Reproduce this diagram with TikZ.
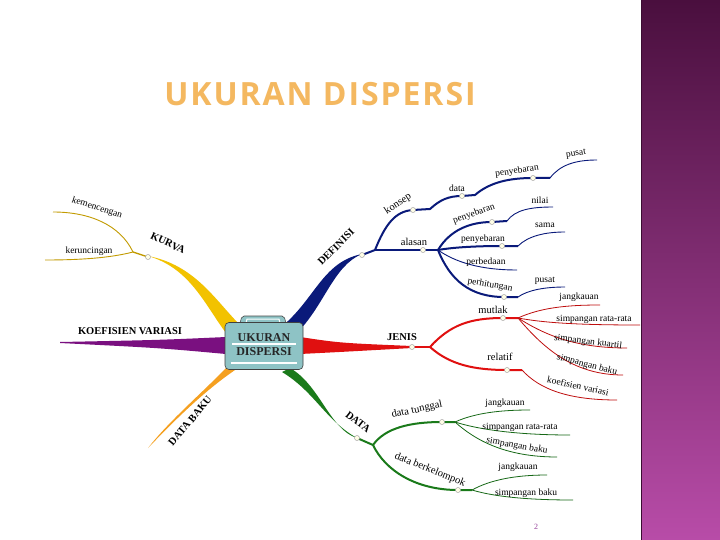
\documentclass[tikz,border=0pt]{standalone}
\usepackage{fontspec}
\setmainfont{Liberation Serif}
\newfontfamily\titlefont[LetterSpace=6]{Open Sans}
\begin{document}
\begin{tikzpicture}[x=1pt,y=-1pt,
  dotn/.style={circle,fill=yellow!10,draw=gray!70,line width=0.5pt,inner sep=0pt,minimum size=5pt},
  lbl/.style={font=\fontsize{9.5}{10}\selectfont,inner sep=0pt},
  mlbl/.style={font=\fontsize{10.5}{11}\selectfont,inner sep=0pt},
  blbl/.style={font=\bfseries\fontsize{10.5}{11}\selectfont,inner sep=0pt},
  navyb/.style={draw=navyc,line width=2pt},
  navyl/.style={draw=navyc,line width=0.9pt},
  redb/.style={draw=redc,line width=2pt},
  redl/.style={draw=redc!85!black,line width=0.8pt},
  grnb/.style={draw=grnc,line width=2pt},
  grnl/.style={draw=grnc!85!black,line width=0.8pt},
  ylwl/.style={draw=ylwc!80!black,line width=0.9pt}]
\definecolor{navyc}{HTML}{0A1A7A}
\definecolor{redc}{HTML}{E01010}
\definecolor{grnc}{HTML}{1A7A1A}
\definecolor{ylwc}{HTML}{F2C200}
\definecolor{purc}{HTML}{7A1080}
\definecolor{orac}{HTML}{F5A020}
\definecolor{titc}{HTML}{F4B860}
\definecolor{boxc}{HTML}{8EC3C5}
\definecolor{bartop}{HTML}{4A0F3E}
\definecolor{barbot}{HTML}{B84CA8}
\useasboundingbox (0,0) rectangle (720,540);
\fill[white] (0,0) rectangle (720,540);
\shade[top color=bartop,bottom color=barbot] (641,0) rectangle (720,540);
\draw[bartop!80!black,line width=0.8pt] (641,0) -- (641,540);
% title
\node[font=\titlefont\bfseries\fontsize{32}{32}\selectfont, text=titc, inner sep=0pt] (title) at (320,94) {UKURAN DISPERSI};
% ---- tapered main branches
\fill[navyc] (280,328) .. controls (315,300) and (322,262) .. (362,254) .. controls (333,266) and (325,305) .. (296,334) -- cycle;
\fill[redc] (300,337) .. controls (340,343) .. (412,346) -- (412,348) .. controls (340,352) .. (300,354) -- cycle;
\fill[grnc] (290,368) .. controls (320,385) and (330,430) .. (357,438) .. controls (325,420) and (315,392) .. (282,372) -- cycle;
\fill[ylwc] (240,325) .. controls (215,300) and (195,265) .. (148,256) .. controls (190,268) and (205,305) .. (226,333) -- cycle;
\fill[purc] (226,337) .. controls (160,340) .. (60,342) -- (60,343) .. controls (160,348) .. (226,354) -- cycle;
\fill[orac] (238,368) .. controls (205,390) and (175,420) .. (148,448) .. controls (170,420) and (200,395) .. (228,366) -- cycle;
% ---- center box
\draw[gray!60!black,fill=boxc,line width=0.6pt,rounded corners=2pt] (240,323) -- (242,316) -- (284,316) -- (286,323);
\draw[white,line width=1pt] (246,323) -- (247,319) -- (279,319) -- (280,323);
\node[draw=gray!50!black,fill=boxc,rounded corners=4pt,minimum width=78pt,minimum height=47pt,line width=0.6pt] (center) at (264,346) {};
\node[font=\bfseries\fontsize{12}{14}\selectfont,align=center,text=black!85] (ctext) at (264,345) {UKURAN\\DISPERSI};
\draw[white,line width=1.2pt] (232,344) -- (296,344) (231,363) -- (297,363);
% ---- DEFINISI
\coordinate (dj) at (375,250);
\draw[navyb] (362,255) -- (dj);
\draw[navyb] (dj) .. controls (385,225) and (395,211) .. (413,210) -- (430,209) .. controls (440,200) and (448,196) .. (462,196) -- (475,195) .. controls (490,182) and (510,178) .. (533,178) -- (550,178);
\draw[navyl] (550,178) .. controls (560,165) and (575,160) .. (597,160);
\draw[navyb] (dj) -- (438,250);
\coordinate (aj) at (438,250);
\draw[navyb] (aj) .. controls (450,230) and (470,222) .. (492,222) -- (507,221);
\draw[navyl] (507,221) .. controls (515,210) and (530,207) .. (553,207);
\draw[navyb] (aj) .. controls (455,247) and (480,246) .. (502,246) -- (518,246);
\draw[navyl] (518,246) .. controls (528,236) and (545,232) .. (565,232);
\draw[navyl] (aj) .. controls (455,262) and (480,270) .. (517,270);
\draw[navyb] (aj) .. controls (450,280) and (470,297) .. (504,297) -- (518,297);
\draw[navyl] (518,297) .. controls (528,290) and (545,287) .. (565,287);
\node[dotn] (ddef) at (362,255) {};
\node[dotn] (dkon) at (413,210) {};
\node[dotn] (ddat) at (462,196) {};
\node[dotn] (dpen) at (533,178) {};
\node[dotn] (dala) at (423,250) {};
\node[dotn] (dp1) at (492,222) {};
\node[dotn] (dp2) at (502,246) {};
\node[dotn] (dphi) at (504,297) {};
\node[blbl,rotate=45] (tdef) at (336,247) {DEFINISI};
\node[mlbl,rotate=33] (tkon) at (398,204) {konsep};
\node[lbl] (tdat) at (457,188) {data};
\node[lbl,rotate=8] (tpen) at (517,171) {penyebaran};
\node[lbl,rotate=8] (tpus) at (576,154) {pusat};
\node[mlbl] (tala) at (414,242) {alasan};
\node[lbl,rotate=20] (tp1) at (474,214) {penyebaran};
\node[lbl] (tnil) at (540,200) {nilai};
\node[lbl] (tp2) at (483,239) {penyebaran};
\node[lbl] (tsam) at (545,225) {sama};
\node[lbl] (tpbd) at (486,262) {perbedaan};
\node[lbl,rotate=-10] (tphi) at (490,285) {perhitungan};
\node[lbl] (tpus2) at (545,281) {pusat};
% ---- JENIS
\coordinate (jj) at (430,347);
\draw[redb] (412,347) -- (jj);
\draw[redb] (jj) .. controls (450,325) and (470,318) .. (503,318) -- (518,318);
\draw[redl] (518,318) .. controls (540,308) and (565,305) .. (600,305);
\draw[redl] (518,318) .. controls (545,323) and (580,325) .. (640,325);
\draw[redl] (518,318) .. controls (545,335) and (575,348) .. (627,348);
\draw[redl] (518,318) .. controls (545,350) and (575,375) .. (623,375);
\draw[redb] (jj) .. controls (450,365) and (475,370) .. (507,370) -- (522,370);
\draw[redl] (522,370) .. controls (540,390) and (570,400) .. (617,400);
\node[dotn] (djen) at (412,347) {};
\node[dotn] (dmut) at (503,318) {};
\node[dotn] (drel) at (507,370) {};
\node[blbl] (tjen) at (402,337) {JENIS};
\node[mlbl] (tmut) at (493,310) {mutlak};
\node[lbl] (tjk1) at (579,297) {jangkauan};
\node[lbl] (tsrr1) at (594,319) {simpangan rata-rata};
\node[lbl,rotate=-7] (tsk) at (588,342) {simpangan kuartil};
\node[lbl,rotate=-15] (tsb1) at (587,365) {simpangan baku};
\node[mlbl] (trel) at (500,357) {relatif};
\node[lbl,rotate=-12] (tkv) at (578,386) {koefisien variasi};
% ---- DATA
\coordinate (gj) at (373,445);
\draw[grnb] (357,438) -- (gj);
\draw[grnb] (gj) .. controls (385,428) and (410,422) .. (442,422) -- (455,422);
\draw[grnl] (455,422) .. controls (475,413) and (500,410) .. (530,410);
\draw[grnl] (455,422) .. controls (480,430) and (520,435) .. (570,435);
\draw[grnl] (455,422) .. controls (475,440) and (505,457) .. (557,457);
\draw[grnb] (gj) .. controls (385,470) and (415,490) .. (458,490) -- (472,490);
\draw[grnl] (472,490) .. controls (490,480) and (515,475) .. (547,475);
\draw[grnl] (472,490) .. controls (495,497) and (530,500) .. (573,500);
\node[dotn] (ddata) at (357,438) {};
\node[dotn] (dtun) at (442,422) {};
\node[dotn] (dber) at (458,490) {};
\node[blbl,rotate=-38] (tdata) at (358,422) {DATA};
\node[mlbl,rotate=12] (ttun) at (417,410) {data tunggal};
\node[lbl] (tjk2) at (505,403) {jangkauan};
\node[lbl] (tsrr2) at (520,427) {simpangan rata-rata};
\node[lbl,rotate=-10] (tsb2) at (517,446) {simpangan baku};
\node[mlbl,rotate=-22] (tber) at (430,470) {data berkelompok};
\node[lbl] (tjk3) at (518,467) {jangkauan};
\node[lbl] (tsb3) at (526,493) {simpangan baku};
% ---- KURVA
\coordinate (kj) at (133,252);
\draw[ylwl,line width=1.3pt] (148,257) -- (kj);
\draw[ylwl] (kj) .. controls (120,225) and (90,212) .. (53,212);
\draw[ylwl] (kj) .. controls (110,258) and (80,260) .. (45,260);
\node[dotn] (dkur) at (148,257) {};
\node[blbl,rotate=-25] (tkur) at (168,243) {KURVA};
\node[lbl,rotate=-18] (tkem) at (97,208) {kemencengan};
\node[lbl] (tker) at (89,251) {keruncingan};
% ---- KOEFISIEN VARIASI & DATA BAKU
\node[blbl] (tkoe) at (130,331) {KOEFISIEN VARIASI};
\node[blbl,rotate=50] (tdb) at (190,421) {DATA BAKU};
% page number
\node[font=\fontsize{8}{8}\selectfont,text=purc!80] (pg) at (536,527) {2};
\end{tikzpicture}
\end{document}
